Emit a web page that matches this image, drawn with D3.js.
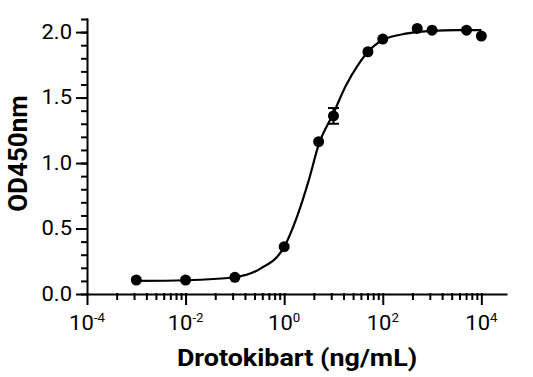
<!DOCTYPE html>
<html>
<head>
<meta charset="utf-8">
<script src="https://cdn.jsdelivr.net/npm/d3@7"></script>
<style>
  body { margin: 0; background: #fff; }
  svg { display: block; font-family: Roboto, "Liberation Sans", sans-serif; }
</style>
</head>
<body>
<svg id="chart" width="533" height="377"></svg>
<script>
// measured points (ng/mL -> OD450)
const concentrations = [0.001, 0.01, 0.1, 1, 5, 10, 50, 100, 500, 1000, 5000, 10000];
const odMeans = [0.107, 0.107, 0.127, 0.361, 1.163, 1.36, 1.85, 1.947, 2.028, 2.015, 2.015, 1.97];
const odErrors = [0, 0, 0, 0, 0, 0.06, 0, 0, 0, 0, 0, 0];

// fitted curve (log10 conc, OD)
const fitLogConc = [-3, -2, -1, -0.5, 0, 0.25, 0.5, 0.7, 1, 1.25, 1.5, 1.7, 2, 2.5, 3, 3.5, 4];
const fitOD = [0.10, 0.105, 0.128, 0.19, 0.36, 0.58, 0.87, 1.14, 1.38, 1.59, 1.75, 1.85, 1.94, 1.99, 2.01, 2.015, 2.015];

const xTickExponents = [-4, -2, 0, 2, 4];
const yTickValues = [0, 0.5, 1.0, 1.5, 2.0];
const yTickLabels = ['0.0', '0.5', '1.0', '1.5', '2.0'];
const xTitle = 'Drotokibart (ng/mL)';
const yTitle = 'OD450nm';

const svg = d3.select('#chart');
const plotLeft = 87, plotRight = 506, plotTop = 19, plotBottom = 294;

const x = d3.scaleLog().domain([1e-4, Math.pow(10, 4.5)]).range([plotLeft, plotRight]);
const y = d3.scaleLinear().domain([0, 2.1]).range([plotBottom, plotTop]);

// minor ticks: GraphPad style, log10(k) steps inside each 100-fold interval
const xMinor = [];
xTickExponents.forEach(e => {
    for (let k = 2; k <= 9; k++) {
        const v = Math.pow(10, e) * k * k;
        if (v < x.domain()[1]) xMinor.push(v);
    }
});
const yMinor = d3.range(0, 22).map(i => i / 10);

const stroke = 2;

// y axis
const yMinorAxis = svg.append('g')
    .attr('transform', `translate(${plotLeft},0)`)
    .call(d3.axisLeft(y).tickValues(yMinor).tickSize(5).tickSizeOuter(0).tickFormat(''));
yMinorAxis.select('.domain').remove();

const yAxis = svg.append('g')
    .attr('transform', `translate(${plotLeft},0)`)
    .call(d3.axisLeft(y).tickValues(yTickValues).tickSize(10).tickSizeOuter(0)
        .tickFormat((d, i) => yTickLabels[i]).tickPadding(5));

// x axis
const xMinorAxis = svg.append('g')
    .attr('transform', `translate(0,${plotBottom})`)
    .call(d3.axisBottom(x).tickValues(xMinor).tickSize(5).tickSizeOuter(0).tickFormat(''));
xMinorAxis.select('.domain').remove();

const xAxis = svg.append('g')
    .attr('transform', `translate(0,${plotBottom})`)
    .call(d3.axisBottom(x).tickValues(xTickExponents.map(e => Math.pow(10, e)))
        .tickSize(10).tickSizeOuter(0).tickFormat(''));

svg.selectAll('.domain, .tick line')
    .attr('stroke', '#000')
    .attr('stroke-width', stroke)
    .attr('stroke-linecap', 'square');

// slightly wider lettering than plain Roboto, as in the original
yAxis.selectAll('.tick text')
    .attr('x', 0)
    .attr('transform', 'translate(-15,0) scale(1.1,1)')
    .attr('fill', '#000')
    .attr('font-size', 20)
    .attr('font-family', 'Roboto, sans-serif');

// x tick labels with superscript exponent
const xLabels = svg.append('g');
xTickExponents.forEach(e => {
    const t = xLabels.append('text')
        .attr('transform', `translate(${x(Math.pow(10, e))},${plotBottom + 36}) scale(1.1,1)`)
        .attr('text-anchor', 'middle')
        .attr('font-size', 20)
        .attr('fill', '#000');
    t.append('tspan').text('10');
    t.append('tspan').attr('font-size', 12).attr('dy', -8).text(e);
});

// fitted curve
const line = d3.line()
    .x(d => x(Math.pow(10, d[0])))
    .y(d => y(d[1]))
    .curve(d3.curveMonotoneX);

svg.append('path')
    .datum(fitLogConc.map((v, i) => [v, fitOD[i]]))
    .attr('d', line)
    .attr('fill', 'none')
    .attr('stroke', '#000')
    .attr('stroke-width', 2.2);

// error bars
const pts = concentrations.map((c, i) => ({ c, m: odMeans[i], e: odErrors[i] }));
const eb = svg.append('g').attr('stroke', '#000').attr('stroke-width', 2);
pts.filter(d => d.e > 0).forEach(d => {
    const cx = x(d.c);
    eb.append('line').attr('x1', cx).attr('x2', cx).attr('y1', y(d.m - d.e)).attr('y2', y(d.m + d.e));
    [d.m - d.e, d.m + d.e].forEach(v => {
        eb.append('line').attr('x1', cx - 5.5).attr('x2', cx + 5.5).attr('y1', y(v)).attr('y2', y(v));
    });
});

svg.append('g').selectAll('circle')
    .data(pts)
    .enter()
    .append('circle')
    .attr('cx', d => x(d.c))
    .attr('cy', d => y(d.m))
    .attr('r', 5.5)
    .attr('fill', '#000');

// titles
svg.append('text')
    .attr('transform', 'translate(297,366) scale(1.12,1)')
    .attr('text-anchor', 'middle')
    .attr('font-size', 24)
    .attr('font-weight', 'bold')
    .attr('fill', '#000')
    .text(xTitle);

svg.append('text')
    .attr('transform', `translate(27,${(plotTop + plotBottom) / 2 - 3}) rotate(-90)`)
    .attr('text-anchor', 'middle')
    .attr('font-size', 26)
    .attr('font-weight', 'bold')
    .attr('fill', '#000')
    .text(yTitle);
</script>
</body>
</html>
